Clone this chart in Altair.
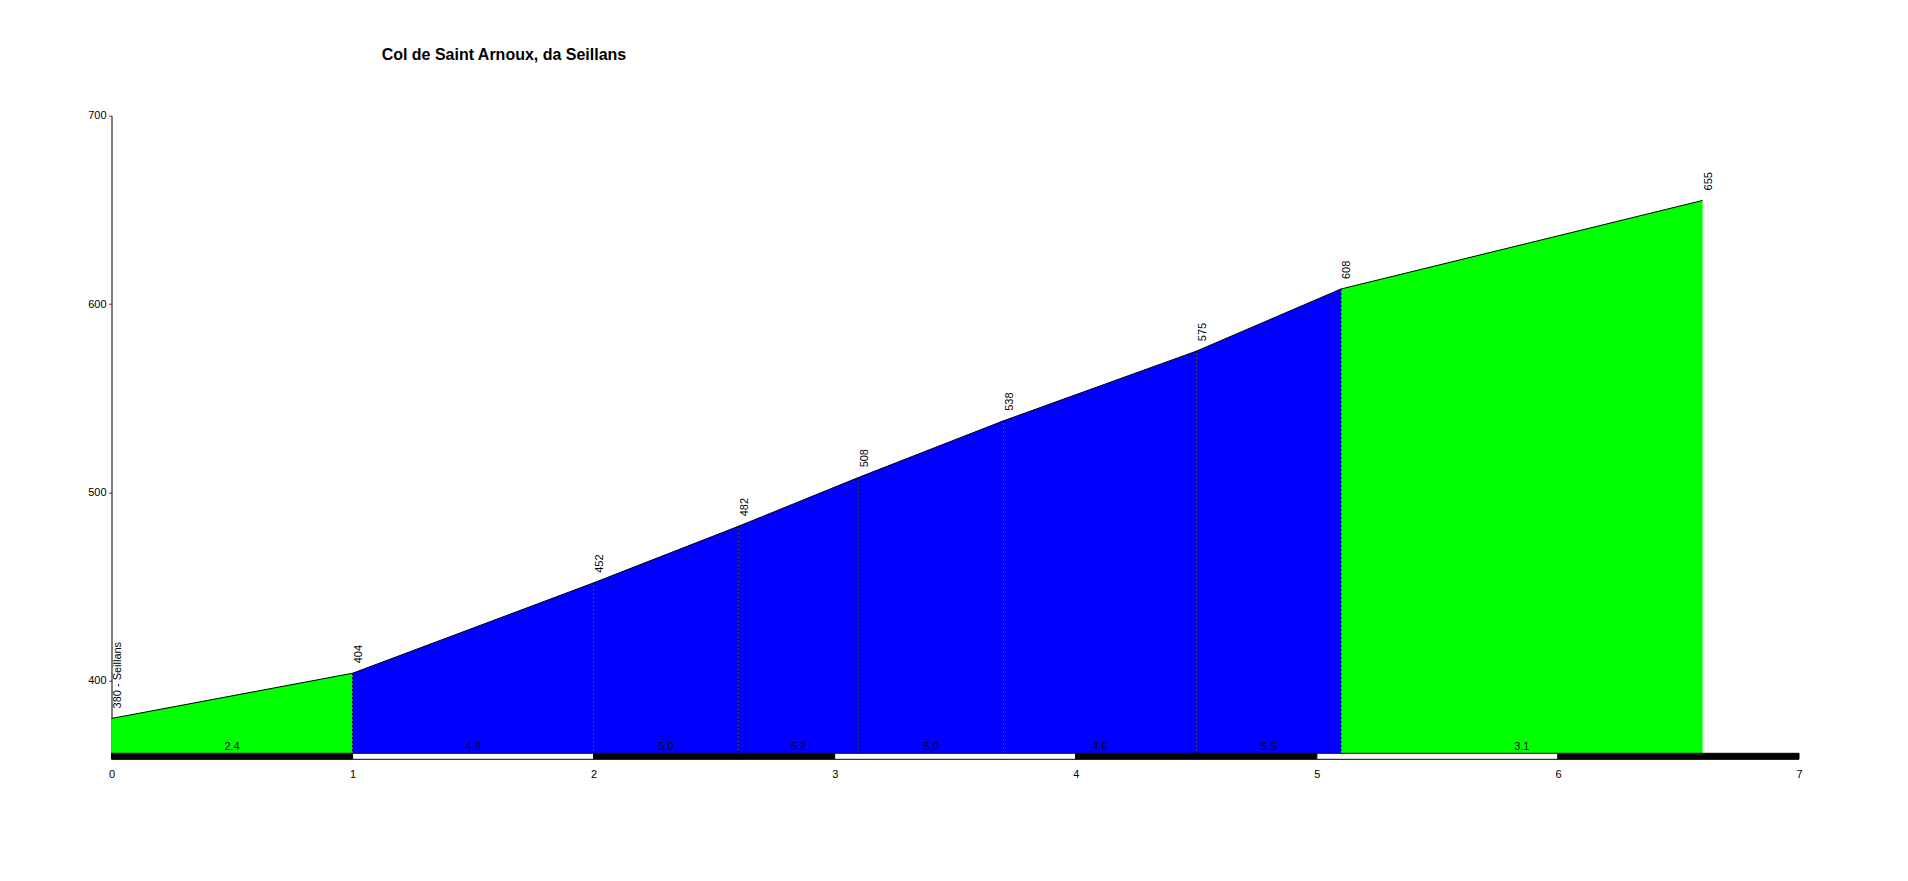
import altair as alt
import pandas as pd

# ---- data ----
km = [0.0, 1.0, 2.0, 2.6, 3.1, 3.7, 4.5, 5.1, 6.6]
elev = [380, 404, 452, 482, 508, 538, 575, 608, 655]
grad = [2.4, 4.8, 5.0, 5.2, 5.0, 4.6, 5.5, 3.1]
point_labels = ["380 - Seillans", "404", "452", "482", "508", "538", "575", "608", "655"]
x_ticks = [0, 1, 2, 3, 4, 5, 6, 7]
y_ticks = [400, 500, 600, 700]
title_text = "Col de Saint Arnoux, da Seillans"

Y_MIN, Y_MAX = 361.5, 700
X_MIN, X_MAX = 0, 7
BAR_DEPTH = 3.2  # km-stripe depth below the baseline, in metres of the y scale

GREEN = "#00ff00"
BLUE = "#0000ff"
FONT = "Liberation Sans"


def seg_color(g):
    return GREEN if g < 4 else BLUE


# ---- tables built from the lists ----
seg_rows = []
for i, g in enumerate(grad):
    for j in (i, i + 1):
        seg_rows.append({"seg": i, "km": km[j], "elev": elev[j], "col": seg_color(g), "base": Y_MIN})
seg_df = pd.DataFrame(seg_rows)

prof_df = pd.DataFrame({"km": km, "elev": elev, "label": point_labels, "base": Y_MIN})
inner_df = prof_df.iloc[1:-1]

grad_df = pd.DataFrame({
    "km": [(km[i] + km[i + 1]) / 2 for i in range(len(grad))],
    "elev": [Y_MIN] * len(grad),
    "g": [f"{g:.1f}" for g in grad],
})

stripe_df = pd.DataFrame({
    "km": x_ticks[:-1],
    "km2": x_ticks[1:],
    "top": [Y_MIN] * (len(x_ticks) - 1),
    "bot": [Y_MIN - BAR_DEPTH] * (len(x_ticks) - 1),
    "fill": ["black" if k % 2 == 0 else "white" for k in x_ticks[:-1]],
})

xscale = alt.Scale(domain=[X_MIN, X_MAX], nice=False, zero=False)
yscale = alt.Scale(domain=[Y_MIN, Y_MAX], nice=False, zero=False)


def X(field="km"):
    return alt.X(f"{field}:Q", scale=xscale, axis=alt.Axis(values=x_ticks, title=None, format="d"))


def Y(field="elev"):
    return alt.Y(f"{field}:Q", scale=yscale, stack=None,
                 axis=alt.Axis(values=y_ticks, title=None, format="d"))


area = alt.Chart(seg_df).mark_area(interpolate="linear", strokeWidth=0).encode(
    x=X(), y=Y(), y2="base:Q",
    color=alt.Color("col:N", scale=None),
    detail="seg:N",
)

outline = alt.Chart(prof_df).mark_line(color="black", strokeWidth=1).encode(x=X(), y=Y())

dashes = alt.Chart(inner_df).mark_rule(color="black", strokeWidth=1, strokeDash=[2, 2]).encode(
    x=X(), y=Y(), y2="base:Q"
)

stripes = alt.Chart(stripe_df).mark_rect(stroke="black", strokeWidth=1).encode(
    x=X(), x2="km2:Q", y=Y("top"), y2="bot:Q",
    fill=alt.Fill("fill:N", scale=None),
)

grad_text = alt.Chart(grad_df).mark_text(
    font=FONT, fontSize=11, color="black", baseline="alphabetic", dy=-3
).encode(x=X(), y=Y(), text="g:N")

pt_text = alt.Chart(prof_df).mark_text(
    font=FONT, fontSize=11, color="black", angle=270, align="left",
    baseline="middle", dx=10, dy=6.5
).encode(x=X(), y=Y(), text="label:N")

chart = alt.layer(area, dashes, outline, stripes, grad_text, pt_text).properties(
    width=1687.5,
    height=637.6,
    padding={"left": 103.5, "top": 107.7, "right": 100, "bottom": 100},
    autosize=alt.AutoSizeParams(type="none"),
    title=alt.TitleParams(
        title_text, anchor="start", dx=294, offset=34, baseline="alphabetic",
        font=FONT, fontSize=16, fontWeight="bold", color="black",
    ),
    background="white",
).configure_view(stroke=None).configure_axis(
    grid=False, labelFont=FONT, labelFontSize=11, labelColor="black",
).configure_axisX(
    domain=False, ticks=False, labelPadding=15, labelFlush=False,
).configure_axisY(
    domainColor="black", domainWidth=1, tickColor="red", tickSize=3, labelPadding=2.5,
)

chart.save("out.html", embed_options={"renderer": "svg", "actions": False})
